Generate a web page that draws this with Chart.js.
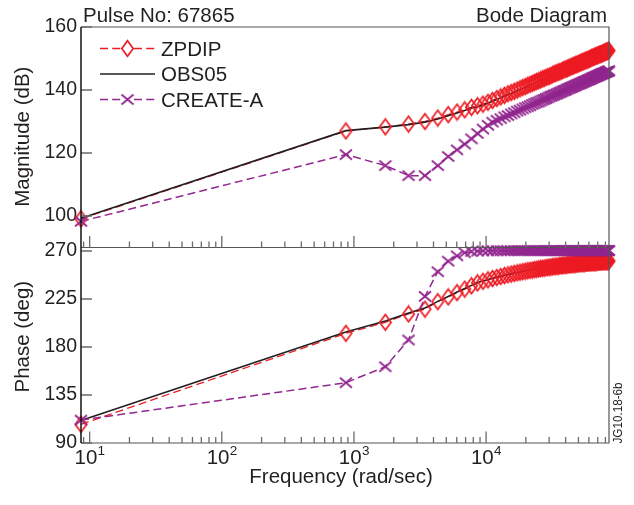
<!DOCTYPE html>
<html>
<head>
<meta charset="utf-8">
<title>Bode Diagram</title>
<script src="https://cdn.jsdelivr.net/npm/chart.js@4.4.1/dist/chart.umd.min.js"></script>
<style>
  html, body { margin: 0; padding: 0; background: #fff; }
  #bode { display: block; }
</style>
</head>
<body>
<canvas id="bode" width="634" height="505"></canvas>
<script>
// Sampled frequencies (rad/sec), shared by every curve
const frequencies = [
  8.6, 869, 1729, 2589, 3449, 4309, 5169, 6029, 6889, 7749,
  8609, 9469, 10329, 11189, 12049, 12909, 13769, 14629, 15489, 16349,
  17209, 18069, 18929, 19789, 20649, 21509, 22369, 23229, 24089, 24949,
  25809, 26669, 27529, 28389, 29249, 30109, 30969, 31829, 32689, 33549,
  34409, 35269, 36129, 36989, 37849, 38709, 39569, 40429, 41289, 42149,
  43009, 43869, 44729, 45589, 46449, 47309, 48169, 49029, 49889, 50749,
  51609, 52469, 53329, 54189, 55049, 55909, 56769, 57629, 58489, 59349,
  60209, 61069, 61929, 62789, 63649, 64509, 65369, 66229, 67089, 67949,
  68809, 69669, 70529, 71389, 72249, 73109, 73969, 74829, 75689, 76549,
  77409, 78269, 79129, 79989, 80849, 81709, 82569, 83429, 84289, 85149
];

const seriesNames = ['ZPDIP', 'OBS05', 'CREATE-A'];

// Magnitude (dB)
const zpdipMagnitude = [
  99.1, 127.0, 128.3, 129.2, 130.0, 131.1, 132.2, 133.0, 133.7, 134.5,
  135.0, 135.5, 136.1, 136.7, 137.3, 137.8, 138.3, 138.8, 139.2, 139.6,
  140.0, 140.4, 140.8, 141.1, 141.5, 141.8, 142.1, 142.4, 142.7, 142.9,
  143.2, 143.5, 143.7, 144.0, 144.2, 144.4, 144.6, 144.9, 145.1, 145.3,
  145.5, 145.7, 145.8, 146.0, 146.2, 146.4, 146.6, 146.7, 146.9, 147.0,
  147.2, 147.4, 147.5, 147.7, 147.8, 148.0, 148.1, 148.2, 148.4, 148.5,
  148.6, 148.8, 148.9, 149.0, 149.1, 149.3, 149.4, 149.5, 149.6, 149.7,
  149.8, 149.9, 150.1, 150.2, 150.3, 150.4, 150.5, 150.6, 150.7, 150.8,
  150.9, 151.0, 151.1, 151.2, 151.3, 151.4, 151.4, 151.5, 151.6, 151.7,
  151.8, 151.9, 152.0, 152.1, 152.1, 152.2, 152.3, 152.4, 152.5, 152.5
];
const obs05Magnitude = [
  99.3, 127.1, 128.2, 129.0, 129.8, 130.8, 131.8, 132.7, 133.5, 134.3,
  134.7, 135.2, 135.8, 136.4, 137.0, 137.5, 138.0, 138.5, 138.9, 139.3,
  139.7, 140.1, 140.5, 140.8, 141.2, 141.5, 141.8, 142.1, 142.4, 142.6,
  142.9, 143.2, 143.4, 143.7, 143.9, 144.1, 144.3, 144.6, 144.8, 145.0,
  145.2, 145.4, 145.5, 145.7, 145.9, 146.1, 146.3, 146.4, 146.6, 146.7,
  146.9, 147.1, 147.2, 147.4, 147.5, 147.7, 147.8, 147.9, 148.1, 148.2,
  148.3, 148.5, 148.6, 148.7, 148.8, 149.0, 149.1, 149.2, 149.3, 149.4,
  149.5, 149.6, 149.8, 149.9, 150.0, 150.1, 150.2, 150.3, 150.4, 150.5,
  150.6, 150.7, 150.8, 150.9, 151.0, 151.1, 151.1, 151.2, 151.3, 151.4,
  151.5, 151.6, 151.7, 151.8, 151.8, 151.9, 152.0, 152.1, 152.2, 152.2
];
const createMagnitude = [
  98.3, 119.5, 116.0, 112.8, 112.8, 116.0, 118.9, 121.0, 122.8, 124.5,
  126.2, 127.6, 128.8, 129.8, 130.4, 130.9, 131.5, 131.9, 132.4, 132.8,
  133.3, 133.6, 134.0, 134.4, 134.7, 135.0, 135.4, 135.7, 136.0, 136.2,
  136.5, 136.8, 137.0, 137.3, 137.5, 137.8, 138.0, 138.2, 138.4, 138.6,
  138.8, 139.0, 139.2, 139.4, 139.6, 139.8, 139.9, 140.1, 140.3, 140.5,
  140.6, 140.8, 140.9, 141.1, 141.2, 141.4, 141.5, 141.7, 141.8, 141.9,
  142.1, 142.2, 142.3, 142.5, 142.6, 142.7, 142.8, 143.0, 143.1, 143.2,
  143.3, 143.4, 143.5, 143.7, 143.8, 143.9, 144.0, 144.1, 144.2, 144.3,
  144.4, 144.5, 144.6, 144.7, 144.8, 144.9, 145.0, 145.1, 145.2, 145.2,
  145.3, 145.4, 145.5, 145.6, 145.7, 145.8, 145.9, 145.9, 146.0, 146.1
];

// Phase (deg)
const zpdipPhase = [
  107.5, 192.8, 203.2, 211.0, 215.5, 222.5, 227.0, 231.0, 234.3, 237.4,
  240.1, 241.6, 243.0, 244.2, 245.2, 246.1, 247.0, 247.7, 248.4, 249.0,
  249.6, 250.1, 250.6, 251.1, 251.5, 251.9, 252.2, 252.6, 252.9, 253.2,
  253.5, 253.8, 254.0, 254.3, 254.5, 254.8, 255.0, 255.2, 255.4, 255.6,
  255.7, 255.9, 256.1, 256.3, 256.4, 256.6, 256.7, 256.8, 257.0, 257.1,
  257.2, 257.3, 257.4, 257.5, 257.7, 257.8, 257.9, 258.0, 258.1, 258.2,
  258.3, 258.4, 258.4, 258.5, 258.6, 258.7, 258.8, 258.9, 258.9, 259.0,
  259.1, 259.2, 259.2, 259.3, 259.4, 259.4, 259.5, 259.6, 259.6, 259.7,
  259.7, 259.8, 259.8, 259.9, 259.9, 260.0, 260.0, 260.1, 260.1, 260.2,
  260.2, 260.3, 260.3, 260.4, 260.4, 260.4, 260.5, 260.5, 260.6, 260.6
];
const obs05Phase = [
  111.2, 194.0, 204.3, 211.8, 216.5, 222.8, 227.4, 231.5, 234.8, 237.8,
  240.4, 241.9, 243.3, 244.5, 245.5, 246.4, 247.3, 248.0, 248.7, 249.3,
  249.9, 250.4, 250.9, 251.4, 251.8, 252.2, 252.5, 252.9, 253.2, 253.5,
  253.8, 254.1, 254.3, 254.6, 254.8, 255.1, 255.3, 255.5, 255.7, 255.9,
  256.0, 256.2, 256.4, 256.6, 256.7, 256.9, 257.0, 257.1, 257.3, 257.4,
  257.5, 257.6, 257.7, 257.8, 258.0, 258.1, 258.2, 258.3, 258.4, 258.5,
  258.6, 258.7, 258.7, 258.8, 258.9, 259.0, 259.1, 259.2, 259.2, 259.3,
  259.4, 259.5, 259.5, 259.6, 259.7, 259.7, 259.8, 259.9, 259.9, 260.0,
  260.0, 260.1, 260.1, 260.2, 260.2, 260.3, 260.3, 260.4, 260.4, 260.5,
  260.5, 260.6, 260.6, 260.7, 260.7, 260.7, 260.8, 260.8, 260.9, 260.9
];
const createPhase = [
  111.5, 146.5, 161.5, 186.6, 227.5, 250.6, 260.5, 265.5, 268.4, 269.5,
  269.9, 270.1, 270.2, 270.2, 270.3, 270.3, 270.3, 270.3, 270.4, 270.4,
  270.4, 270.4, 270.4, 270.4, 270.4, 270.4, 270.4, 270.4, 270.4, 270.4,
  270.4, 270.4, 270.4, 270.4, 270.4, 270.4, 270.4, 270.4, 270.4, 270.4,
  270.4, 270.4, 270.4, 270.4, 270.4, 270.4, 270.4, 270.4, 270.4, 270.4,
  270.4, 270.4, 270.4, 270.4, 270.4, 270.4, 270.4, 270.4, 270.4, 270.4,
  270.4, 270.4, 270.4, 270.4, 270.4, 270.4, 270.4, 270.4, 270.4, 270.4,
  270.4, 270.4, 270.4, 270.4, 270.4, 270.4, 270.4, 270.4, 270.4, 270.4,
  270.4, 270.4, 270.4, 270.4, 270.4, 270.4, 270.4, 270.4, 270.4, 270.4,
  270.4, 270.4, 270.4, 270.4, 270.4, 270.4, 270.4, 270.4, 270.4, 270.4
];

// Axis ranges and tick labels
const freqRange = [8.6, 85149];
const magRange = [90, 160];
const phaseRange = [90, 273.3];
const magTicks = [100, 120, 140, 160];
const phaseTicks = [90, 135, 180, 225, 270];
const decadeExponents = [1, 2, 3, 4];

const FONT = '"Liberation Sans", Arial, Helvetica, sans-serif';
const INK = '#231f20';
const RED = '#ed1c24';
const PURPLE = '#92278f';
const DASH = [8, 4.2];

function diamondCanvas(color) {
  const c = document.createElement('canvas');
  c.width = 15; c.height = 19;
  const g = c.getContext('2d');
  g.strokeStyle = color;
  g.lineWidth = 1.7;
  g.beginPath();
  g.moveTo(7.5, 1.7); g.lineTo(13.2, 9.5); g.lineTo(7.5, 17.3); g.lineTo(1.8, 9.5);
  g.closePath();
  g.stroke();
  return c;
}

function crossCanvas(color) {
  const c = document.createElement('canvas');
  c.width = 16; c.height = 13;
  const g = c.getContext('2d');
  g.strokeStyle = color;
  g.lineWidth = 1.8;
  g.beginPath();
  g.moveTo(2, 1.5); g.lineTo(14, 11.5);
  g.moveTo(14, 1.5); g.lineTo(2, 11.5);
  g.stroke();
  return c;
}

const diamondMark = diamondCanvas(RED);
const crossMark = crossCanvas(PURPLE);

const toPoints = ys => frequencies.map((f, i) => ({ x: f, y: ys[i] }));

// one panel = four layers; earlier datasets are painted on top
function panelDatasets(axisId, zpdip, obs05, create) {
  const common = { yAxisID: axisId, xAxisID: 'x', clip: false, tension: 0, fill: false };
  return [
    { ...common, label: seriesNames[2], data: toPoints(create), borderColor: PURPLE, borderWidth: 1.5,
      borderDash: DASH, pointStyle: crossMark, pointRadius: 6 },
    { ...common, label: seriesNames[0], data: toPoints(zpdip), showLine: false,
      pointStyle: diamondMark, pointRadius: 7 },
    { ...common, label: seriesNames[1], data: toPoints(obs05), borderColor: INK, borderWidth: 1.6, pointRadius: 0 },
    { ...common, label: seriesNames[0], data: toPoints(zpdip), borderColor: RED, borderWidth: 1.3,
      borderDash: DASH, pointRadius: 0 }
  ];
}

function freqTicks(min, max) {
  const out = [];
  for (let e = Math.floor(Math.log10(min)); e <= Math.ceil(Math.log10(max)); e++) {
    for (let m = 1; m <= 9; m++) {
      const v = m * Math.pow(10, e);
      if (v >= min && v <= max) out.push({ value: v, major: m === 1 });
    }
  }
  return out;
}

function valueAxis(range, ticks, weight) {
  return {
    type: 'linear',
    position: 'left',
    stack: 'bode',
    stackWeight: weight,
    min: range[0],
    max: range[1],
    afterBuildTicks: scale => { scale.ticks = ticks.map(v => ({ value: v })); },
    afterFit: scale => { scale.width = 81; },
    grid: { display: false, drawTicks: false },
    border: { display: false },
    ticks: { autoSkip: false, color: INK, padding: 4, font: { family: FONT, size: 19.5 } }
  };
}

// frame, inward ticks, decade labels, titles and legend
const bodeDecor = {
  id: 'bodeDecor',
  afterDraw(chart) {
    const { ctx } = chart;
    const xs = chart.scales.x;
    const mag = chart.scales.yMag;
    const ph = chart.scales.yPhase;
    const left = xs.left, right = xs.right;
    const top = mag.top, split = mag.bottom, bottom = ph.bottom;

    ctx.save();
    ctx.strokeStyle = '#555';
    ctx.lineWidth = 1.2;
    ctx.beginPath();
    ctx.moveTo(left, top); ctx.lineTo(right, top); ctx.lineTo(right, bottom); ctx.lineTo(left, bottom);
    ctx.moveTo(left, split); ctx.lineTo(right, split);
    ctx.stroke();

    ctx.strokeStyle = '#6b6b6b';
    ctx.lineWidth = 1.3;
    ctx.beginPath();
    for (const t of freqTicks(xs.min, xs.max)) {
      const px = xs.getPixelForValue(t.value);
      const len = t.major ? 11.5 : 6;
      ctx.moveTo(px, split); ctx.lineTo(px, split - len);
      ctx.moveTo(px, bottom); ctx.lineTo(px, bottom - len);
    }
    for (const s of [mag, ph]) {
      for (const t of s.ticks) {
        const py = s.getPixelForValue(t.value);
        ctx.moveTo(left, py); ctx.lineTo(left + 11, py);
      }
    }
    ctx.stroke();

    ctx.strokeStyle = '#111';
    ctx.lineWidth = 1.5;
    ctx.beginPath();
    ctx.moveTo(left, top); ctx.lineTo(left, bottom);
    ctx.stroke();

    // decade labels 10^n
    ctx.fillStyle = INK;
    ctx.textBaseline = 'alphabetic';
    ctx.textAlign = 'left';
    for (const e of decadeExponents) {
      const px = xs.getPixelForValue(Math.pow(10, e));
      ctx.font = `20.5px ${FONT}`;
      const wBase = ctx.measureText('10').width;
      ctx.font = `13.5px ${FONT}`;
      const wExp = ctx.measureText(String(e)).width;
      const x0 = px - (wBase + wExp) / 2;
      ctx.font = `20.5px ${FONT}`;
      ctx.fillText('10', x0, bottom + 20.5);
      ctx.font = `13.5px ${FONT}`;
      ctx.fillText(String(e), x0 + wBase + 0.3, bottom + 11.5);
    }

    ctx.font = `20.5px ${FONT}`;
    ctx.textAlign = 'center';
    ctx.fillText('Frequency (rad/sec)', (left + right) / 2 - 4, bottom + 39.5);

    ctx.textAlign = 'left';
    ctx.fillText('Pulse No: 67865', 83, 21.8);
    ctx.textAlign = 'right';
    ctx.fillText('Bode Diagram', 607, 21.8);

    const vertical = (text, x, y) => {
      ctx.save();
      ctx.translate(x, y);
      ctx.rotate(-Math.PI / 2);
      ctx.textAlign = 'center';
      ctx.fillText(text, 0, 0);
      ctx.restore();
    };
    vertical('Magnitude (dB)', 28.5, 136.7);
    vertical('Phase (deg)', 28.5, 336.7);

    // drawing tag along the right edge
    ctx.save();
    ctx.font = `13px ${FONT}`;
    const tag = 'JG10.18-6b';
    const tw = ctx.measureText(tag).width;
    ctx.translate(621.5, bottom + 0.5);
    ctx.rotate(-Math.PI / 2);
    ctx.scale(61 / tw, 1);
    ctx.textAlign = 'left';
    ctx.fillText(tag, 0, 0);
    ctx.restore();

    // legend
    const rows = [
      { y: 48.5, color: RED, dash: DASH, width: 1.3, mark: diamondMark, label: seriesNames[0] },
      { y: 74, color: INK, dash: [], width: 1.6, mark: null, label: seriesNames[1] },
      { y: 99.5, color: PURPLE, dash: DASH, width: 1.5, mark: crossMark, label: seriesNames[2] }
    ];
    for (const r of rows) {
      ctx.strokeStyle = r.color;
      ctx.lineWidth = r.width;
      ctx.setLineDash(r.dash);
      ctx.beginPath();
      if (r.mark) {
        ctx.moveTo(100, r.y); ctx.lineTo(121, r.y);
        ctx.moveTo(134, r.y); ctx.lineTo(155, r.y);
      } else {
        ctx.moveTo(100, r.y); ctx.lineTo(155, r.y);
      }
      ctx.stroke();
      ctx.setLineDash([]);
      if (r.mark) ctx.drawImage(r.mark, 127.5 - r.mark.width / 2, r.y - r.mark.height / 2);
      ctx.fillStyle = INK;
      ctx.font = `20.5px ${FONT}`;
      ctx.textAlign = 'left';
      ctx.fillText(r.label, 161, r.y + 7.3);
    }
    ctx.restore();
  }
};

new Chart(document.getElementById('bode'), {
  type: 'line',
  data: {
    datasets: [
      ...panelDatasets('yMag', zpdipMagnitude, obs05Magnitude, createMagnitude),
      ...panelDatasets('yPhase', zpdipPhase, obs05Phase, createPhase)
    ]
  },
  options: {
    responsive: false,
    devicePixelRatio: 1,
    animation: false,
    events: [],
    layout: { autoPadding: false, padding: { left: 0, top: 27, right: 25, bottom: 62 } },
    plugins: { legend: { display: false }, title: { display: false }, tooltip: { enabled: false } },
    scales: {
      x: {
        type: 'logarithmic',
        position: 'bottom',
        min: freqRange[0],
        max: freqRange[1],
        afterFit: scale => { scale.height = 0; },
        grid: { display: false, drawTicks: false },
        border: { display: false },
        ticks: { display: false }
      },
      yPhase: valueAxis(phaseRange, phaseTicks, 195.5),
      yMag: valueAxis(magRange, magTicks, 220.5)
    }
  },
  plugins: [bodeDecor]
});
</script>
</body>
</html>
